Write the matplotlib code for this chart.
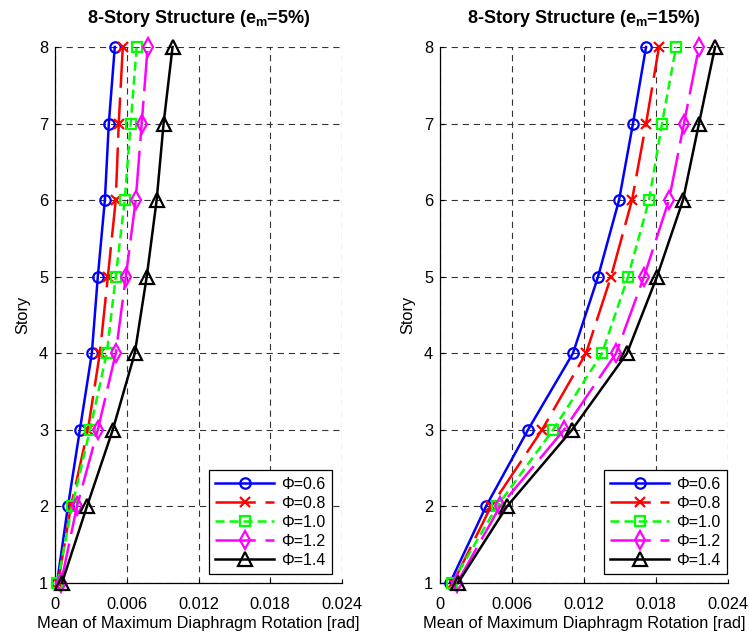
import matplotlib
matplotlib.use("Agg")
import matplotlib.pyplot as plt

plt.rcParams['font.family'] = ['Liberation Sans', 'DejaVu Sans']
plt.rcParams['mathtext.fontset'] = 'custom'
plt.rcParams['mathtext.rm'] = 'Liberation Sans'
plt.rcParams['mathtext.bf'] = 'Liberation Sans:bold'
plt.rcParams['lines.scale_dashes'] = False

stories = [1, 2, 3, 4, 5, 6, 7, 8]
labels = ['Φ=0.6', 'Φ=0.8', 'Φ=1.0', 'Φ=1.2', 'Φ=1.4']

# e_m = 5%
left_06 = [0.00017, 0.00108, 0.00208, 0.00308, 0.00358, 0.00417, 0.00450, 0.00500]
left_08 = [0.00025, 0.00133, 0.00275, 0.00375, 0.00442, 0.00508, 0.00533, 0.00567]
left_10 = [0.00020, 0.00142, 0.00292, 0.00433, 0.00508, 0.00583, 0.00633, 0.00683]
left_12 = [0.00050, 0.00183, 0.00358, 0.00508, 0.00592, 0.00675, 0.00725, 0.00775]
left_14 = [0.00058, 0.00267, 0.00483, 0.00667, 0.00767, 0.00850, 0.00908, 0.00983]

# e_m = 15%
right_06 = [0.00083, 0.00383, 0.00733, 0.01108, 0.01317, 0.01492, 0.01608, 0.01717]
right_08 = [0.00108, 0.00425, 0.00850, 0.01217, 0.01425, 0.01600, 0.01717, 0.01825]
right_10 = [0.00100, 0.00475, 0.00942, 0.01350, 0.01567, 0.01742, 0.01850, 0.01967]
right_12 = [0.00142, 0.00500, 0.01033, 0.01467, 0.01700, 0.01908, 0.02033, 0.02158]
right_14 = [0.00150, 0.00558, 0.01100, 0.01558, 0.01808, 0.02025, 0.02158, 0.02292]

xticks = [0, 0.006, 0.012, 0.018, 0.024]
xticklabels = ['0', '0.006', '0.012', '0.018', '0.024']
yticks = [1, 2, 3, 4, 5, 6, 7, 8]

styles = [
    dict(color='#0000ff', linestyle='-', marker='o', markersize=7.5, markerfacecolor='none'),
    dict(color='#ff0000', linestyle=(0, (29, 7)), marker='x', markersize=6.5),
    dict(color='#00ff00', linestyle=(0, (6.5, 3.6)), marker='s', markersize=6.5, markerfacecolor='none'),
    dict(color='#ff00ff', linestyle=(0, (29, 7)), marker='d', markersize=9, markerfacecolor='none'),
    dict(color='#000000', linestyle='-', marker='^', markersize=9.5, markerfacecolor='none'),
]

fig = plt.figure(figsize=(7.49, 6.33), dpi=100)
ax1 = fig.add_axes([55/749, 1-583/633, (342-55)/749, (583-47)/633])
ax2 = fig.add_axes([440/749, 1-583/633, (728-440)/749, (583-47)/633])

panels = [
    (ax1, [left_06, left_08, left_10, left_12, left_14], r'8-Story Structure (e$_\mathbf{m}$=5%)', 332/749),
    (ax2, [right_06, right_08, right_10, right_12, right_14], r'8-Story Structure (e$_\mathbf{m}$=15%)', 727/749),
]

for ax, series, title, lx in panels:
    for vals, st, lab in zip(series, styles, labels):
        ax.plot(vals, stories, linewidth=1.8, markeredgewidth=1.6, clip_on=False, label=lab, zorder=3, **st)
    ax.set_xlim(0, 0.024)
    ax.set_ylim(1, 8)
    ax.set_xticks(xticks)
    ax.set_xticklabels(xticklabels)
    ax.set_yticks(yticks)
    ax.grid(True, color='0.2', linestyle=(0, (4.5, 3.5)), linewidth=0.8)
    ax.spines['top'].set_visible(False)
    ax.spines['right'].set_visible(False)
    ax.spines['left'].set_linewidth(0.9)
    ax.spines['bottom'].set_linewidth(0.9)
    ax.tick_params(direction='in', length=3, width=0.8, labelsize=11.8)
    ax.tick_params(axis='x', pad=10)
    ax.tick_params(axis='y', pad=5)
    ax.set_title(title, fontsize=13, fontweight='bold', pad=17)
    ax.set_xlabel('Mean of Maximum Diaphragm Rotation [rad]', fontsize=11.8, labelpad=3)
    ax.set_ylabel('Story', fontsize=11.8, labelpad=6)
    leg = ax.legend(loc='lower right', bbox_to_anchor=(lx, 1-574/633), bbox_transform=fig.transFigure,
                    fontsize=11.5, handlelength=3.7, handletextpad=0.45, labelspacing=0.25,
                    borderpad=0.4, borderaxespad=0, fancybox=False, framealpha=1,
                    edgecolor='black')
    leg.get_frame().set_linewidth(0.9)

fig.savefig('out.png', dpi=100)
